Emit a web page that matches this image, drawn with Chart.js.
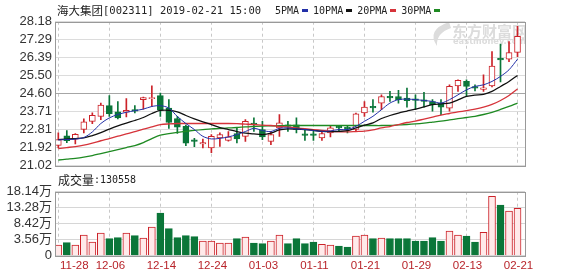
<!DOCTYPE html>
<html>
<head>
<meta charset="utf-8">
<script src="https://cdn.jsdelivr.net/npm/chart.js@4.4.1/dist/chart.umd.min.js"></script>
<style>
body { margin: 0; background: #fff; width: 578px; height: 276px; overflow: hidden; position: relative; }
canvas { position: absolute; left: 0; }
#kline { top: 0; }
#vol { top: 170px; }
</style>
</head>
<body>
<canvas id="kline" width="578" height="176"></canvas>
<canvas id="vol" width="578" height="106"></canvas>
<script>
var dates = ['11-28','11-29','11-30','12-03','12-04','12-05','12-06','12-07','12-10','12-11','12-12','12-13','12-14','12-17','12-18','12-19','12-20','12-21','12-24','12-25','12-26','12-27','12-28','01-02','01-03','01-04','01-07','01-08','01-09','01-10','01-11','01-14','01-15','01-16','01-17','01-18','01-21','01-22','01-23','01-24','01-25','01-28','01-29','01-30','01-31','02-01','02-11','02-12','02-13','02-14','02-15','02-18','02-19','02-20','02-21']

var opens  = [22.01,22.48,22.32,22.80,23.21,23.46,23.99,23.68,23.66,23.80,24.29,24.34,24.49,23.87,23.35,22.96,22.29,22.08,21.88,22.38,22.26,22.60,22.46,23.12,22.80,22.21,22.88,23.03,23.04,22.59,22.59,22.38,22.63,22.96,22.92,22.80,23.63,23.96,24.12,24.46,24.45,24.37,24.33,24.28,24.20,24.12,23.87,24.98,25.20,24.94,24.80,24.98,26.35,26.31,26.65]
var closes = [22.30,22.25,22.56,23.18,23.51,24.02,23.59,23.38,23.76,23.72,24.40,24.40,23.76,23.15,22.92,22.12,22.21,22.15,22.46,22.55,22.43,22.33,23.21,23.04,22.43,22.55,23.13,22.95,22.80,22.51,22.51,22.60,22.88,22.88,22.84,23.58,23.92,23.88,24.45,24.38,24.29,24.24,24.25,24.20,24.04,23.92,24.95,25.25,24.95,24.86,24.88,25.96,26.27,26.64,27.45]
var highs  = [22.63,22.75,22.60,23.33,23.63,24.12,24.49,24.20,24.34,23.99,24.42,24.98,24.62,24.29,23.46,23.02,22.36,22.32,22.55,22.63,22.70,22.88,23.29,23.38,23.21,22.71,23.54,23.21,23.38,22.80,22.75,22.71,22.99,23.00,23.00,23.62,24.20,24.29,24.53,24.70,24.75,24.87,24.53,24.65,24.29,24.29,25.03,25.28,25.28,25.03,25.53,26.69,27.06,27.19,27.95]
var lows   = [21.88,22.14,22.08,22.63,23.09,23.29,23.46,23.33,23.43,23.63,23.82,23.95,23.46,22.85,22.60,22.00,21.95,21.88,21.64,21.96,22.22,22.13,22.21,22.71,22.30,22.05,22.46,22.71,22.63,22.26,22.26,22.26,22.43,22.70,22.63,22.71,23.46,23.66,23.79,24.20,24.12,23.92,23.79,23.92,23.71,23.54,23.72,24.70,24.49,24.72,24.70,24.92,25.18,26.19,26.44]

var ma5  = [22.28,22.30,22.32,22.40,22.68,23.10,23.38,23.55,23.66,23.74,23.82,23.95,23.99,23.87,23.45,23.10,22.80,22.46,22.33,22.36,22.43,22.55,22.70,22.86,22.75,22.70,22.86,22.88,22.83,22.80,22.75,22.71,22.73,22.80,22.80,22.96,23.21,23.46,23.79,24.12,24.29,24.32,24.29,24.25,24.20,24.12,24.29,24.53,24.78,24.95,25.03,25.20,25.45,25.78,26.31]
var ma10 = [22.30,22.32,22.35,22.38,22.50,22.65,22.82,22.98,23.12,23.25,23.40,23.60,23.75,23.76,23.68,23.50,23.33,23.18,23.05,22.90,22.80,22.70,22.62,22.58,22.55,22.62,22.78,22.83,22.82,22.80,22.76,22.71,22.70,22.71,22.74,22.88,23.02,23.13,23.35,23.50,23.62,23.72,23.82,23.93,24.04,24.08,24.12,24.28,24.45,24.52,24.55,24.70,24.95,25.20,25.50]
var ma20 = [21.85,21.90,21.95,22.02,22.12,22.24,22.35,22.47,22.58,22.70,22.82,22.93,23.04,23.08,23.10,23.10,23.10,23.10,23.10,23.10,23.10,23.09,23.07,23.05,23.02,23.00,22.96,22.92,22.88,22.84,22.80,22.76,22.72,22.69,22.68,22.70,22.72,22.78,22.88,22.95,23.05,23.15,23.22,23.32,23.42,23.52,23.60,23.68,23.74,23.82,23.92,24.05,24.25,24.50,24.82]
var ma30 = [21.28,21.32,21.36,21.42,21.50,21.60,21.70,21.80,21.90,22.00,22.15,22.35,22.52,22.60,22.66,22.71,22.76,22.80,22.83,22.86,22.88,22.90,22.93,22.95,22.97,22.98,22.99,23.00,23.00,23.00,23.00,23.00,23.00,23.00,23.00,23.00,23.00,23.00,23.00,23.01,23.03,23.05,23.08,23.12,23.17,23.22,23.28,23.34,23.40,23.46,23.55,23.66,23.80,23.95,24.12]

// volume in 万 shares
var volumes = [1.95,2.66,1.95,4.99,2.86,5.60,3.87,4.18,5.60,4.78,4.08,7.42,11.67,6.91,4.18,4.78,4.48,3.17,3.17,2.56,2.56,3.87,4.38,2.56,2.35,3.17,4.99,2.35,3.87,2.35,2.86,2.15,1.95,1.65,1.34,4.68,4.99,3.87,4.08,3.87,3.87,3.87,3.17,3.17,4.18,3.17,6.20,4.99,4.68,2.86,5.80,16.73,14.10,12.28,13.06]

var priceTicks = [21.02,21.92,22.81,23.71,24.60,25.50,26.39,27.29,28.18]
var volTicks = [-1.3,3.56,8.42,13.28,18.14]
var volTickLabels = ['0','3.56万','8.42万','13.28万','18.14万']
var dateTicks = [0,6,12,18,24,30,36,42,48,54]

var RED = '#cc2229', GREEN = '#0b7639'
var up = closes.map(function (c, i) { return c >= opens[i]; })

function pts(arr) {
    return arr.map(function (v, i) { return { x: i, y: v }; })
}

function xScale() {
    return {
        type: 'linear', min: -0.39, max: 54.88, offset: false,
        afterBuildTicks: function (s) { s.ticks = dateTicks.map(function (v) { return { value: v }; }); },
        ticks: { display: false },
        grid: { color: '#c8c8c8', drawTicks: false, offset: false },
        border: { display: false, dash: [3, 3] },
        afterFit: function (s) { s.height = 0; }
    }
}

var frame = {
    id: 'frame',
    afterDatasetsDraw: function (chart) {
        var a = chart.chartArea, ctx = chart.ctx;
        ctx.save();
        ctx.strokeStyle = '#999999';
        ctx.lineWidth = 1;
        ctx.setLineDash([]);
        ctx.strokeRect(Math.round(a.left) + 0.5, Math.round(a.top) + 0.5, Math.round(a.right - a.left), Math.round(a.bottom - a.top));
        ctx.restore();
    }
}

var header = {
    id: 'header',
    beforeDatasetsDraw: function (chart) {
        var ctx = chart.ctx;
        ctx.save();
        ctx.fillStyle = '#dcdcdc';
        ctx.beginPath();
        ctx.moveTo(449, 22);
        ctx.quadraticCurveTo(426, 30, 437, 46);
        ctx.quadraticCurveTo(436, 33, 451, 28);
        ctx.closePath();
        ctx.fill();
        ctx.font = 'bold 15px "Noto Sans CJK SC"';
        ctx.textBaseline = 'middle';
        ctx.fillText('东方财富网', 452, 31);
        ctx.font = 'bold 9px "DejaVu Sans"';
        ctx.fillText('eastmoney.com', 453, 42, 73);
        ctx.restore();
    },
    afterDraw: function (chart) {
        var ctx = chart.ctx;
        ctx.save();
        ctx.textBaseline = 'middle';
        ctx.fillStyle = '#222';
        ctx.font = '11.5px "Noto Sans CJK SC"';
        ctx.fillText('海大集团', 57, 11);
        ctx.font = '10.5px "DejaVu Sans Mono"';
        ctx.fillText('[002311] 2019-02-21 15:00', 103, 11);
        var x = 275;
        chart.data.datasets.forEach(function (ds) {
            if (ds.type !== 'line') return;
            ctx.font = '10px "DejaVu Sans Mono"';
            ctx.fillStyle = '#222';
            ctx.fillText(ds.label, x, 11);
            x += ctx.measureText(ds.label).width + 2.5;
            ctx.fillStyle = ds.borderColor;
            ctx.fillRect(Math.round(x), 9, 6, 3);
            x += 6 + 5.5;
        });
        ctx.restore();
    }
}

new Chart(document.getElementById('kline'), {
    type: 'bar',
    data: {
        datasets: [
            { type: 'line', label: '5PMA', data: pts(ma5), borderColor: '#2230a8', borderWidth: 1, pointRadius: 0, tension: 0.3, order: 1 },
            { type: 'line', label: '10PMA', data: pts(ma10), borderColor: '#111111', borderWidth: 1.3, pointRadius: 0, tension: 0.3, order: 1 },
            { type: 'line', label: '20PMA', data: pts(ma20), borderColor: '#d6333a', borderWidth: 1.3, pointRadius: 0, tension: 0.3, order: 1 },
            { type: 'line', label: '30PMA', data: pts(ma30), borderColor: '#1e8a22', borderWidth: 1.3, pointRadius: 0, tension: 0.3, order: 1 },
            {
                label: 'body',
                data: opens.map(function (o, i) { return { x: i, y: [o, closes[i]] }; }),
                backgroundColor: up.map(function (u) { return u ? '#ffffff' : GREEN; }),
                borderColor: up.map(function (u) { return u ? RED : GREEN; }),
                borderWidth: 1, borderSkipped: false, barThickness: 6, grouped: false, order: 5
            },
            {
                label: 'wick',
                data: lows.map(function (l, i) { return { x: i, y: [l, highs[i]] }; }),
                backgroundColor: up.map(function (u) { return u ? RED : GREEN; }),
                barThickness: 1, grouped: false, order: 6
            }
        ]
    },
    options: {
        responsive: false,
        animation: false,
        layout: { padding: { left: 0, right: 53, top: 21.7, bottom: 10.3 } },
        plugins: { legend: { display: false }, tooltip: { enabled: false } },
        scales: {
            x: xScale(),
            y: {
                min: 21.02, max: 28.18,
                afterBuildTicks: function (s) { s.ticks = priceTicks.map(function (v) { return { value: v }; }); },
                ticks: { autoSkip: false, callback: function (v) { return v.toFixed(2); }, color: '#333', font: { family: 'Liberation Sans', size: 13 }, padding: 3 },
                grid: {
                    drawTicks: false,
                    color: function (c) { return c.tick && Math.abs(c.tick.value - 24.60) < 0.01 ? '#a6a6a6' : '#dcdcdc'; }
                },
                border: { display: false },
                afterFit: function (s) { s.width = 55; }
            }
        }
    },
    plugins: [frame, header]
});

var volText = {
    id: 'volText',
    afterDraw: function (chart) {
        var ctx = chart.ctx, xs = chart.scales.x;
        ctx.save();
        ctx.textBaseline = 'middle';
        ctx.fillStyle = '#222';
        ctx.font = '12px "Noto Sans CJK SC"';
        ctx.fillText('成交量', 58, 10);
        ctx.font = '10px "DejaVu Sans Mono"';
        ctx.fillText(':130558', 94, 10);
        ctx.fillStyle = '#b8242a';
        ctx.font = '11.5px "Liberation Sans"';
        dateTicks.forEach(function (v, k) {
            var px = xs.getPixelForValue(v);
            if (k === 0) {
                ctx.textAlign = 'left';
                ctx.fillText(dates[v], chart.chartArea.left + 5, 96);
            } else {
                ctx.textAlign = 'center';
                ctx.fillText(dates[v], px + 1, 96);
            }
        });
        ctx.restore();
    }
}

new Chart(document.getElementById('vol'), {
    type: 'bar',
    data: {
        datasets: [{
            label: 'vol',
            data: volumes.map(function (v, i) { return { x: i, y: v }; }),
            base: volTicks[0],
            backgroundColor: up.map(function (u) { return u ? '#ffeaea' : GREEN; }),
            borderColor: up.map(function (u) { return u ? RED : GREEN; }),
            borderWidth: 1, barThickness: 7
        }]
    },
    options: {
        responsive: false,
        animation: false,
        layout: { padding: { left: 0, right: 53, top: 21.7, bottom: 20.3 } },
        plugins: { legend: { display: false }, tooltip: { enabled: false } },
        scales: {
            x: xScale(),
            y: {
                min: volTicks[0], max: 18.14,
                afterBuildTicks: function (s) { s.ticks = volTicks.map(function (v) { return { value: v }; }); },
                ticks: {
                    autoSkip: false,
                    callback: function (v) { var k = volTicks.indexOf(v); return k >= 0 ? volTickLabels[k] : ''; },
                    color: '#333', font: { family: 'Liberation Sans, Noto Sans CJK SC', size: 13 }, padding: 3
                },
                grid: { drawTicks: false, color: '#d6d6d6' },
                border: { display: false },
                afterFit: function (s) { s.width = 55; }
            }
        }
    },
    plugins: [frame, volText]
});
</script>
</body>
</html>
